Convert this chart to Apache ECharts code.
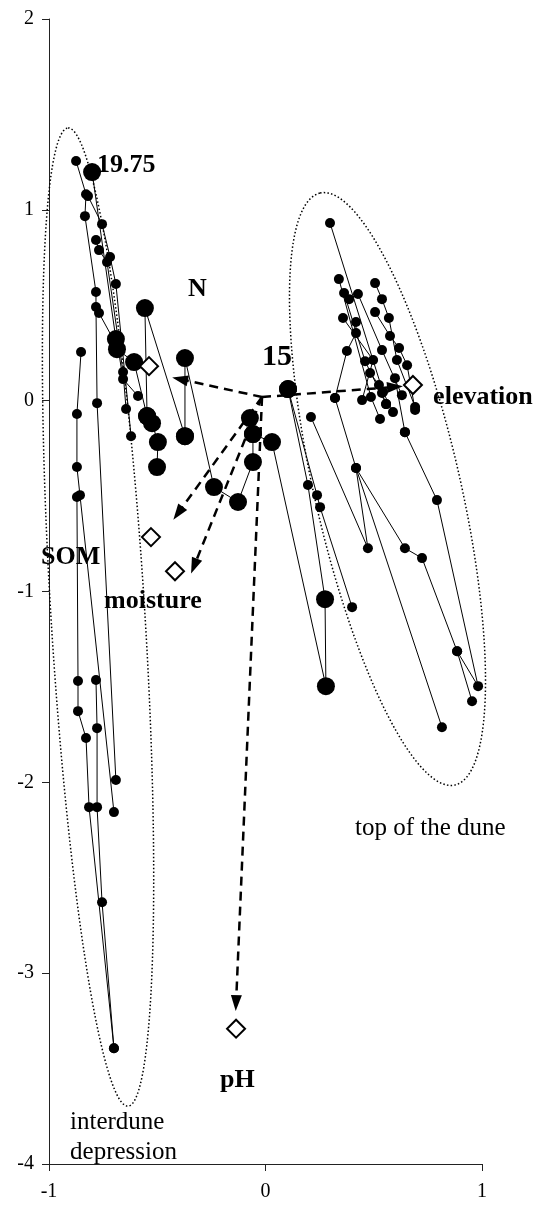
<!DOCTYPE html>
<html><head><meta charset="utf-8">
<script src="https://cdn.jsdelivr.net/npm/echarts@6/dist/echarts.min.js"></script>
<style>html,body{margin:0;padding:0;background:#fff}#c{width:544px;height:1209px}</style>
</head><body><div id="c"></div>
<script>
// ---- trajectories: each point [x, y, g]; g = 1 marks the large (labelled-run) samples
const traj01 = [[-0.801,1.198,1],[-0.691,0.323,1],[-0.686,0.270,1],[-0.607,0.202,1],[-0.547,-0.081,1],[-0.524,-0.118,1],[-0.497,-0.217,1],[-0.501,-0.348,1]];
const traj02 = [[-0.547,-0.081,1],[-0.557,0.485,1],[-0.372,-0.186,1]];
const traj03 = [[-0.372,-0.186,1],[-0.372,0.223,1],[-0.238,-0.453,1],[-0.127,-0.531,1],[-0.058,-0.322,1],[-0.058,-0.175,1],[-0.072,-0.091,1]];
const traj04 = [[-0.058,-0.175,1],[0.030,-0.217,1],[0.279,-1.496,1],[0.275,-1.040,1],[0.196,-0.442,0],[0.104,0.061,1]];
const traj05 = [[-0.875,1.256,0],[-0.829,1.082,0],[-0.834,0.967,0],[-0.783,0.569,0],[-0.783,0.491,0],[-0.778,-0.013,0],[-0.691,-1.988,0]];
const traj06 = [[-0.820,1.072,0],[-0.755,0.925,0],[-0.718,0.753,0],[-0.691,0.611,0],[-0.621,-0.186,0]];
const traj07 = [[-0.783,0.842,0],[-0.769,0.789,0],[-0.732,0.726,0],[-0.658,0.150,0],[-0.644,-0.044,0]];
const traj08 = [[-0.769,0.459,0],[-0.681,0.276,0],[-0.658,0.113,0],[-0.589,0.024,0]];
const traj09 = [[-0.852,0.255,0],[-0.871,-0.070,0],[-0.871,-0.348,0],[-0.857,-0.495,0],[-0.700,-2.156,0]];
const traj10 = [[-0.871,-0.505,0],[-0.866,-1.469,0],[-0.866,-1.627,0],[-0.829,-1.768,0],[-0.815,-2.130,0],[-0.700,-3.393,0]];
const traj11 = [[-0.783,-1.464,0],[-0.778,-1.716,0],[-0.778,-2.130,0],[-0.755,-2.628,0],[-0.700,-3.393,0]];
const traj12 = [[0.321,0.014,0],[0.418,-0.353,0],[0.815,-1.711,0]];
const traj13 = [[0.210,-0.086,0],[0.473,-0.773,0],[0.418,-0.353,0],[0.644,-0.773,0],[0.723,-0.825,0],[0.885,-1.313,0],[0.954,-1.575,0]];
const traj14 = [[0.644,-0.165,0],[0.792,-0.521,0],[0.982,-1.496,0],[0.885,-1.313,0]];
const traj15 = [[0.104,0.061,1],[0.238,-0.495,0],[0.252,-0.558,0],[0.400,-1.082,0]];
const traj16 = [[0.298,0.931,0],[0.543,0.045,0],[0.589,-0.060,0]];
const traj17 = [[0.339,0.637,0],[0.487,0.019,0],[0.529,-0.096,0]];
const traj18 = [[0.363,0.564,0],[0.460,0.207,0],[0.557,-0.018,0]];
const traj19 = [[0.386,0.532,0],[0.427,0.559,0],[0.538,0.265,0],[0.630,0.029,0]];
const traj20 = [[0.506,0.616,0],[0.538,0.532,0],[0.570,0.433,0],[0.607,0.213,0],[0.691,-0.033,0]];
const traj21 = [[0.358,0.433,0],[0.497,0.213,0],[0.446,0.003,0]];
const traj22 = [[0.418,0.412,0],[0.418,0.354,0],[0.376,0.260,0],[0.321,0.014,0]];
const traj23 = [[0.506,0.464,0],[0.575,0.339,0],[0.617,0.276,0],[0.654,0.186,0],[0.691,-0.049,0]];
const traj24 = [[0.483,0.145,0],[0.524,0.082,0],[0.538,0.040,0],[0.557,-0.018,0]];
const traj25 = [[0.598,0.118,0],[0.644,-0.165,0]];
const trajectories = [traj05,traj06,traj07,traj08,traj09,traj10,traj11,traj12,traj13,traj14,traj15,traj16,traj17,traj18,traj19,traj20,traj21,traj22,traj23,traj24,traj25,traj01,traj02,traj03,traj04];

// ---- environmental vectors
const vectorNames  = ['N','elevation','SOM','moisture','pH'];
const vectorOrigin = [-0.016, 0.019];
const arrowX   = [-0.395, 0.598, -0.404, -0.330, -0.136];
const arrowY   = [ 0.113, 0.072, -0.590, -0.867, -3.157];
const diamondX = [-0.538, 0.681, -0.529, -0.418, -0.136];
const diamondY = [ 0.181, 0.082, -0.715, -0.894, -3.291];

// ---- text annotations (anchor = left edge, vertical centre)
const labelTexts = ['19.75','N','15','elevation','SOM','moisture','pH','top of the dune','interdune','depression'];
const labelX = [-0.778,-0.358,-0.016, 0.774,-1.037,-0.746,-0.210, 0.413,-0.903,-0.903];
const labelY = [ 1.234, 0.585, 0.229, 0.019,-0.820,-1.050,-3.560,-2.241,-3.781,-3.938];

// ---- group envelopes (ends of the long axis)
const ellipseTops    = [[-0.912, 1.429],[0.252, 1.088]];
const ellipseBottoms = [[-0.635,-3.697],[0.875,-2.014]];

// ---- axes
const xTicks = {min:-1, max:1, interval:1};
const yTicks = {min:-4, max:2, interval:1};

// styles (kept apart from data)
const labelBold = [true,true,true,true,true,true,true,false,false,false];
const labelSize = [26,26,30,26,26,26,26,25,25,25];
const ellipseHalfWidth = [0.217, 0.337]; // in x-axis units
const FONT = '"Liberation Serif", "Times New Roman", serif';

const chart = echarts.init(document.getElementById('c'), null, {renderer:'canvas'});

const series = [];
// ellipses
series.push({
  type:'custom', z:1, silent:true, clip:false,
  data: ellipseTops.map(t=>[t[0],t[1]]),
  encode:{x:0,y:1},
  renderItem:function(params, api){
    const i = params.dataIndex;
    const p1 = api.coord(ellipseTops[i]);
    const p2 = api.coord(ellipseBottoms[i]);
    const cx=(p1[0]+p2[0])/2, cy=(p1[1]+p2[1])/2;
    const dx=(p1[0]-p2[0])/2, dy=(p1[1]-p2[1])/2;
    const a=Math.hypot(dx,dy); const ux=dx/a, uy=dy/a; const vx=-uy, vy=ux;
    const b=api.size([ellipseHalfWidth[i],0])[0];
    const pts=[];
    for(let k=0;k<=240;k++){const t=k/240*Math.PI*2;
      pts.push([cx+a*Math.cos(t)*ux+b*Math.sin(t)*vx, cy+a*Math.cos(t)*uy+b*Math.sin(t)*vy]);}
    return {type:'polygon', shape:{points:pts}, style:{fill:null, stroke:'#000', lineWidth:1.5, lineDash:[1.5,2.2]}};
  }
});
// arrows
series.push({
  type:'scatter', z:2, data:[], silent:true,
  markLine:{
    silent:true, animation:false,
    symbol:['none','triangle'], symbolSize:[11,16],
    lineStyle:{type:[9,6], width:2.5, color:'#000', opacity:1},
    itemStyle:{color:'#000', opacity:1},
    label:{show:false},
    emphasis:{disabled:true},
    data: vectorNames.map((n,i)=>[{coord:vectorOrigin},{coord:[arrowX[i],arrowY[i]]}])
  }
});
// trajectories
trajectories.forEach(tr=>{
  series.push({
    type:'line', z:3, silent:true, showAllSymbol:true,
    data: tr.map(p=>[p[0],p[1],p[2]]),
    symbol:'circle',
    symbolSize:function(v){return v[2]?18:10;},
    itemStyle:{color:'#000', borderWidth:0, opacity:1},
    lineStyle:{color:'#000', width:1, opacity:1},
    clip:false
  });
});
// diamonds
series.push({
  type:'scatter', z:4, silent:true,
  data: vectorNames.map((n,i)=>[diamondX[i],diamondY[i]]),
  symbol:'diamond', symbolSize:18,
  itemStyle:{color:'#fff', borderColor:'#000', borderWidth:2, opacity:1}
});
// text labels
series.push({
  type:'scatter', z:5, silent:true, clip:false,
  symbolSize:0.1, itemStyle:{color:'#fff', opacity:1},
  data: labelTexts.map((t,i)=>({
    name:t, value:[labelX[i],labelY[i]],
    label:{show:true, position:'right', distance:0, formatter:t, opacity:1,
      fontFamily:FONT, fontWeight:labelBold[i]?'bold':'normal', fontSize:labelSize[i], color:'#000'}
  }))
});

chart.setOption({
  animation:false,
  backgroundColor:'#fff',
  grid:{left:49, right:62, top:19, bottom:45},
  xAxis:{type:'value', min:xTicks.min, max:xTicks.max, interval:xTicks.interval,
    splitLine:{show:false},
    axisLine:{show:true, onZero:false, lineStyle:{color:'#222', width:1}},
    axisTick:{show:true, length:7, lineStyle:{color:'#222'}},
    axisLabel:{fontFamily:FONT, fontSize:20, color:'#000', margin:18}
  },
  yAxis:{type:'value', min:yTicks.min, max:yTicks.max, interval:yTicks.interval,
    splitLine:{show:false},
    axisLine:{show:true, onZero:false, lineStyle:{color:'#222', width:1}},
    axisTick:{show:true, length:7, lineStyle:{color:'#222'}},
    axisLabel:{fontFamily:FONT, fontSize:20, color:'#000', margin:15}
  },
  series:series
});
</script>
</body></html>
